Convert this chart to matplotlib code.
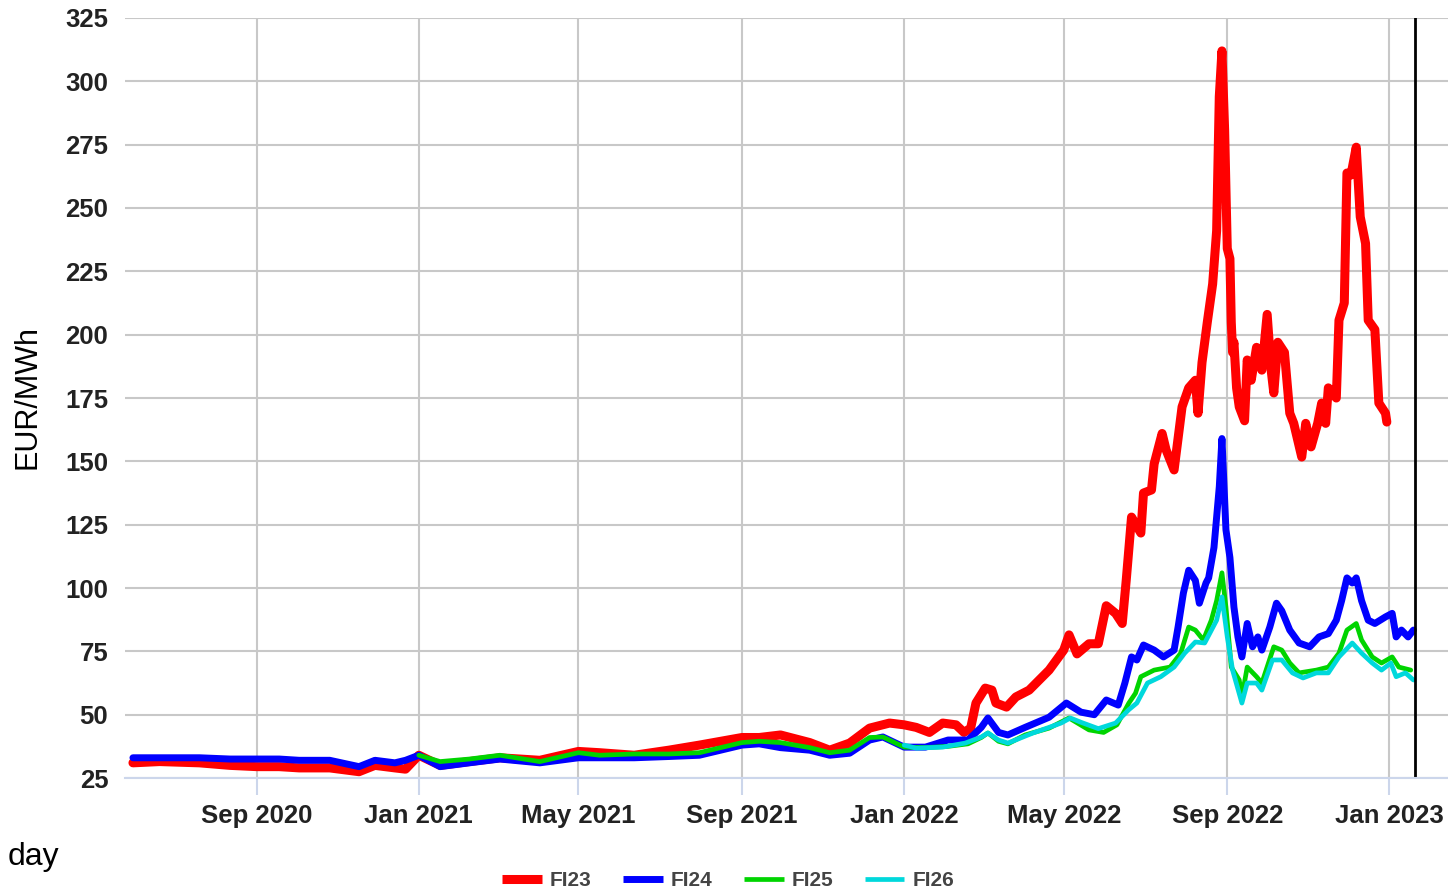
import pandas as pd
import matplotlib.pyplot as plt
import matplotlib.dates as mdates

# FI23 (red)
fi23_dates = ['2020-05-31', '2020-06-20', '2020-07-20', '2020-08-12', '2020-09-01', '2020-09-18',
              '2020-10-03', '2020-10-26', '2020-11-17', '2020-11-29', '2020-12-14', '2020-12-22',
              '2021-01-01', '2021-01-17', '2021-02-08', '2021-03-03', '2021-04-02', '2021-05-01',
              '2021-05-17', '2021-06-12', '2021-07-08', '2021-07-31', '2021-09-01', '2021-09-14',
              '2021-09-30', '2021-10-22', '2021-11-06', '2021-11-21', '2021-12-06', '2021-12-21',
              '2022-01-01', '2022-01-10', '2022-01-20', '2022-01-30', '2022-02-09', '2022-02-15',
              '2022-02-20', '2022-02-24', '2022-03-03', '2022-03-08', '2022-03-11', '2022-03-19',
              '2022-03-26', '2022-04-05', '2022-04-20', '2022-05-01', '2022-05-05', '2022-05-11',
              '2022-05-20', '2022-05-27', '2022-06-02', '2022-06-09', '2022-06-14', '2022-06-17',
              '2022-06-21', '2022-06-28', '2022-06-30', '2022-07-06', '2022-07-08', '2022-07-14',
              '2022-07-17', '2022-07-23', '2022-07-29', '2022-08-03', '2022-08-08', '2022-08-10',
              '2022-08-13', '2022-08-17', '2022-08-21', '2022-08-24', '2022-08-26', '2022-08-28',
              '2022-08-30', '2022-09-01', '2022-09-03', '2022-09-04', '2022-09-05', '2022-09-06',
              '2022-09-08', '2022-09-10', '2022-09-14', '2022-09-16', '2022-09-19', '2022-09-23',
              '2022-09-27', '2022-10-01', '2022-10-04', '2022-10-06', '2022-10-09', '2022-10-14',
              '2022-10-18', '2022-10-21', '2022-10-27', '2022-10-30', '2022-11-03', '2022-11-08',
              '2022-11-11', '2022-11-14', '2022-11-16', '2022-11-22', '2022-11-24', '2022-11-28',
              '2022-11-30', '2022-12-03', '2022-12-07', '2022-12-10', '2022-12-14', '2022-12-16',
              '2022-12-21', '2022-12-24', '2022-12-29', '2022-12-30']
fi23_vals = [31, 31.5, 31, 30, 29.5, 29.5, 29, 29, 27.5, 30, 29, 28.5,
             34, 30, 31.5, 33, 32, 35.5, 35, 34, 36, 38, 41, 41,
             42, 39, 36, 38.8, 44.7, 46.7, 46, 45, 43, 46.7, 46, 43,
             44.7, 54.6, 60.5, 59.7, 54.6, 53, 57, 59.7, 67.6, 75.5, 81.5, 74,
             78, 78, 93, 90, 86, 103, 128, 121.7, 137.5, 138.7, 149, 161,
             154.5, 146.6, 171.5, 179, 182, 169, 189, 205, 220, 241, 294, 312,
             281, 234, 230, 205, 193, 197, 179, 171.5, 166, 190, 182, 195,
             186, 208, 186, 177, 197, 193, 169, 165, 151.7, 165, 155.7, 165,
             173, 165, 179, 175, 205.7, 212.5, 263.8, 263, 274, 246.5, 236, 205.7,
             202, 173, 169, 165.5]

# FI24 (blue)
fi24_dates = ['2020-05-31', '2020-06-20', '2020-07-20', '2020-08-12', '2020-09-01', '2020-09-18',
              '2020-10-03', '2020-10-26', '2020-11-17', '2020-11-29', '2020-12-14', '2020-12-22',
              '2021-01-01', '2021-01-17', '2021-02-08', '2021-03-03', '2021-04-02', '2021-05-01',
              '2021-05-17', '2021-06-12', '2021-07-08', '2021-07-31', '2021-09-01', '2021-09-14',
              '2021-09-30', '2021-10-22', '2021-11-06', '2021-11-21', '2021-12-06', '2021-12-16',
              '2022-01-01', '2022-01-17', '2022-02-03', '2022-02-18', '2022-02-28', '2022-03-05',
              '2022-03-13', '2022-03-20', '2022-04-02', '2022-04-20', '2022-05-03', '2022-05-14',
              '2022-05-24', '2022-06-02', '2022-06-11', '2022-06-16', '2022-06-21', '2022-06-25',
              '2022-06-30', '2022-07-08', '2022-07-15', '2022-07-23', '2022-07-26', '2022-07-30',
              '2022-08-03', '2022-08-08', '2022-08-11', '2022-08-16', '2022-08-18', '2022-08-22',
              '2022-08-26', '2022-08-28', '2022-08-31', '2022-09-03', '2022-09-06', '2022-09-09',
              '2022-09-12', '2022-09-16', '2022-09-20', '2022-09-24', '2022-09-27', '2022-10-03',
              '2022-10-08', '2022-10-12', '2022-10-18', '2022-10-25', '2022-11-02', '2022-11-09',
              '2022-11-16', '2022-11-22', '2022-11-26', '2022-11-30', '2022-12-04', '2022-12-07',
              '2022-12-11', '2022-12-16', '2022-12-21', '2022-12-29', '2023-01-03', '2023-01-06',
              '2023-01-10', '2023-01-15', '2023-01-19']
fi24_vals = [33, 33, 33, 32.5, 32.5, 32.5, 32, 32, 29.5, 32, 31, 32,
             34, 29.5, 31, 32.5, 31, 33, 33, 33, 33.5, 34, 38, 38.5,
             37, 36, 34, 34.8, 40, 41.2, 37.2, 37.2, 40, 40, 45, 48.7,
             43, 42, 45, 49, 54.6, 51, 50, 55.8, 53.8, 62.5, 72.8, 71.6,
             77.5, 75.5, 72.8, 75.5, 84.6, 98, 107, 103, 94, 102, 104, 116,
             140, 159, 123, 112, 92.5, 80.7, 72.8, 86, 76.8, 80.7, 75.5, 84.6,
             94, 91, 83.4, 78.3, 76.8, 80.7, 82, 87.3, 95, 104, 102, 104,
             95, 87.3, 86, 88.6, 90, 80.7, 83.4, 80.7, 83.4]

# FI25 (green)
fi25_dates = ['2021-01-01', '2021-01-17', '2021-02-08', '2021-03-03', '2021-04-02', '2021-05-01',
              '2021-05-17', '2021-06-12', '2021-07-08', '2021-07-31', '2021-09-01', '2021-09-14',
              '2021-09-30', '2021-10-22', '2021-11-06', '2021-11-21', '2021-12-06', '2021-12-16',
              '2022-01-01', '2022-01-17', '2022-02-03', '2022-02-18', '2022-02-28', '2022-03-05',
              '2022-03-13', '2022-03-20', '2022-04-02', '2022-04-20', '2022-05-05', '2022-05-20',
              '2022-05-31', '2022-06-10', '2022-06-19', '2022-06-24', '2022-06-28', '2022-07-08',
              '2022-07-20', '2022-07-28', '2022-08-03', '2022-08-08', '2022-08-14', '2022-08-20',
              '2022-08-24', '2022-08-28', '2022-08-31', '2022-09-04', '2022-09-10', '2022-09-12',
              '2022-09-16', '2022-09-23', '2022-09-27', '2022-10-06', '2022-10-12', '2022-10-18',
              '2022-10-25', '2022-11-07', '2022-11-16', '2022-11-24', '2022-11-30', '2022-12-07',
              '2022-12-11', '2022-12-19', '2022-12-26', '2023-01-03', '2023-01-08', '2023-01-17']
fi25_vals = [34, 31.5, 32.5, 34, 31.5, 35, 34, 34.5, 34.5, 35, 39, 39.5,
             39, 37, 35, 36, 41, 41.2, 37.2, 37, 37.5, 38.5, 41, 42.8,
             39.5, 38.5, 42, 44.7, 48.7, 44, 43, 46, 54.6, 58.5, 65, 67.6,
             68.8, 74.3, 84.6, 83.4, 79.5, 87.3, 95, 106, 92.5, 68.8, 63.7, 57,
             68.8, 65, 62.5, 76.8, 75.5, 70.4, 66.5, 67.6, 68.8, 74.3, 83.4, 86,
             79.5, 72.8, 70.4, 72.8, 68.8, 67.6]

# FI26 (cyan)
fi26_dates = ['2022-01-01', '2022-01-10', '2022-01-30', '2022-02-16', '2022-02-28', '2022-03-05',
              '2022-03-13', '2022-03-20', '2022-04-08', '2022-04-20', '2022-04-29', '2022-05-06',
              '2022-05-14', '2022-05-27', '2022-06-09', '2022-06-19', '2022-06-25', '2022-07-03',
              '2022-07-13', '2022-07-23', '2022-07-31', '2022-08-08', '2022-08-15', '2022-08-24',
              '2022-08-28', '2022-09-01', '2022-09-05', '2022-09-12', '2022-09-16', '2022-09-23',
              '2022-09-27', '2022-10-05', '2022-10-12', '2022-10-20', '2022-10-28', '2022-11-07',
              '2022-11-16', '2022-11-24', '2022-12-04', '2022-12-11', '2022-12-19', '2022-12-26',
              '2023-01-02', '2023-01-06', '2023-01-13', '2023-01-19']
fi26_vals = [38, 36.8, 37.2, 38.8, 41.2, 42.8, 40, 38.8, 42.8, 45, 46.7, 48.7,
             47, 44.5, 46.7, 52, 54.6, 62.5, 65, 68.8, 74.3, 78.7, 78.3, 87.3,
             96.5, 80.7, 67.6, 54.6, 62.5, 62.5, 59.7, 71.6, 71.6, 66.5, 64.5, 66.5,
             66.5, 72.8, 78.3, 74.3, 70.4, 67.6, 70.4, 65, 66.5, 63.7]

series = [('FI23', fi23_dates, fi23_vals, '#ff0000', 6.5),
          ('FI24', fi24_dates, fi24_vals, '#0000ff', 5.0),
          ('FI25', fi25_dates, fi25_vals, '#00d400', 3.4),
          ('FI26', fi26_dates, fi26_vals, '#00d8dc', 3.4)]

plt.rcParams['font.family'] = ['Liberation Sans', 'DejaVu Sans']

fig = plt.figure(figsize=(14.48, 8.9), dpi=100)
ax = fig.add_axes([0.0863, 0.1258, 0.9137, 0.8540])

for name, d, v, c, lw in series:
    ax.plot(pd.to_datetime(d), v, color=c, lw=lw, label=name,
            solid_joinstyle='round', solid_capstyle='round')

ax.axvline(pd.Timestamp('2023-01-20'), color='black', lw=2)

ax.set_ylim(25, 325)
ax.set_yticks(range(25, 326, 25))
ax.set_xlim(pd.Timestamp('2020-05-25'), pd.Timestamp('2023-02-14'))
ax.xaxis.set_major_locator(mdates.MonthLocator(bymonth=[1, 5, 9]))
ax.xaxis.set_major_formatter(mdates.DateFormatter('%b %Y'))

ax.grid(True, color='#c8c8c8', lw=1.5)
ax.set_axisbelow(True)
for s in ['top', 'right', 'left']:
    ax.spines[s].set_visible(False)
ax.spines['bottom'].set_color('#ccd6eb')
ax.spines['bottom'].set_linewidth(1.5)

ax.tick_params(axis='y', length=0, pad=12, labelsize=18.5)
ax.tick_params(axis='x', length=12, color='#ccd6eb', width=1.5, pad=7, labelsize=18.5)
for lab in ax.get_xticklabels() + ax.get_yticklabels():
    lab.set_fontweight('bold')
    lab.set_color('#222222')

fig.text(0.019, 0.554, 'EUR/MWh', rotation=90, ha='center', va='center', fontsize=22)
fig.text(0.005, 0.037, 'day', ha='left', va='center', fontsize=23)

leg = fig.legend(loc='lower center', bbox_to_anchor=(0.503, -0.021), ncol=4, frameon=False,
                 handlelength=1.9, handletextpad=0.4, columnspacing=1.5,
                 prop={'weight': 'bold', 'size': 15})
for t in leg.get_texts():
    t.set_color('#444444')
for h in leg.get_lines():
    h.set_solid_capstyle('butt')

fig.savefig('out.png', dpi=100)
